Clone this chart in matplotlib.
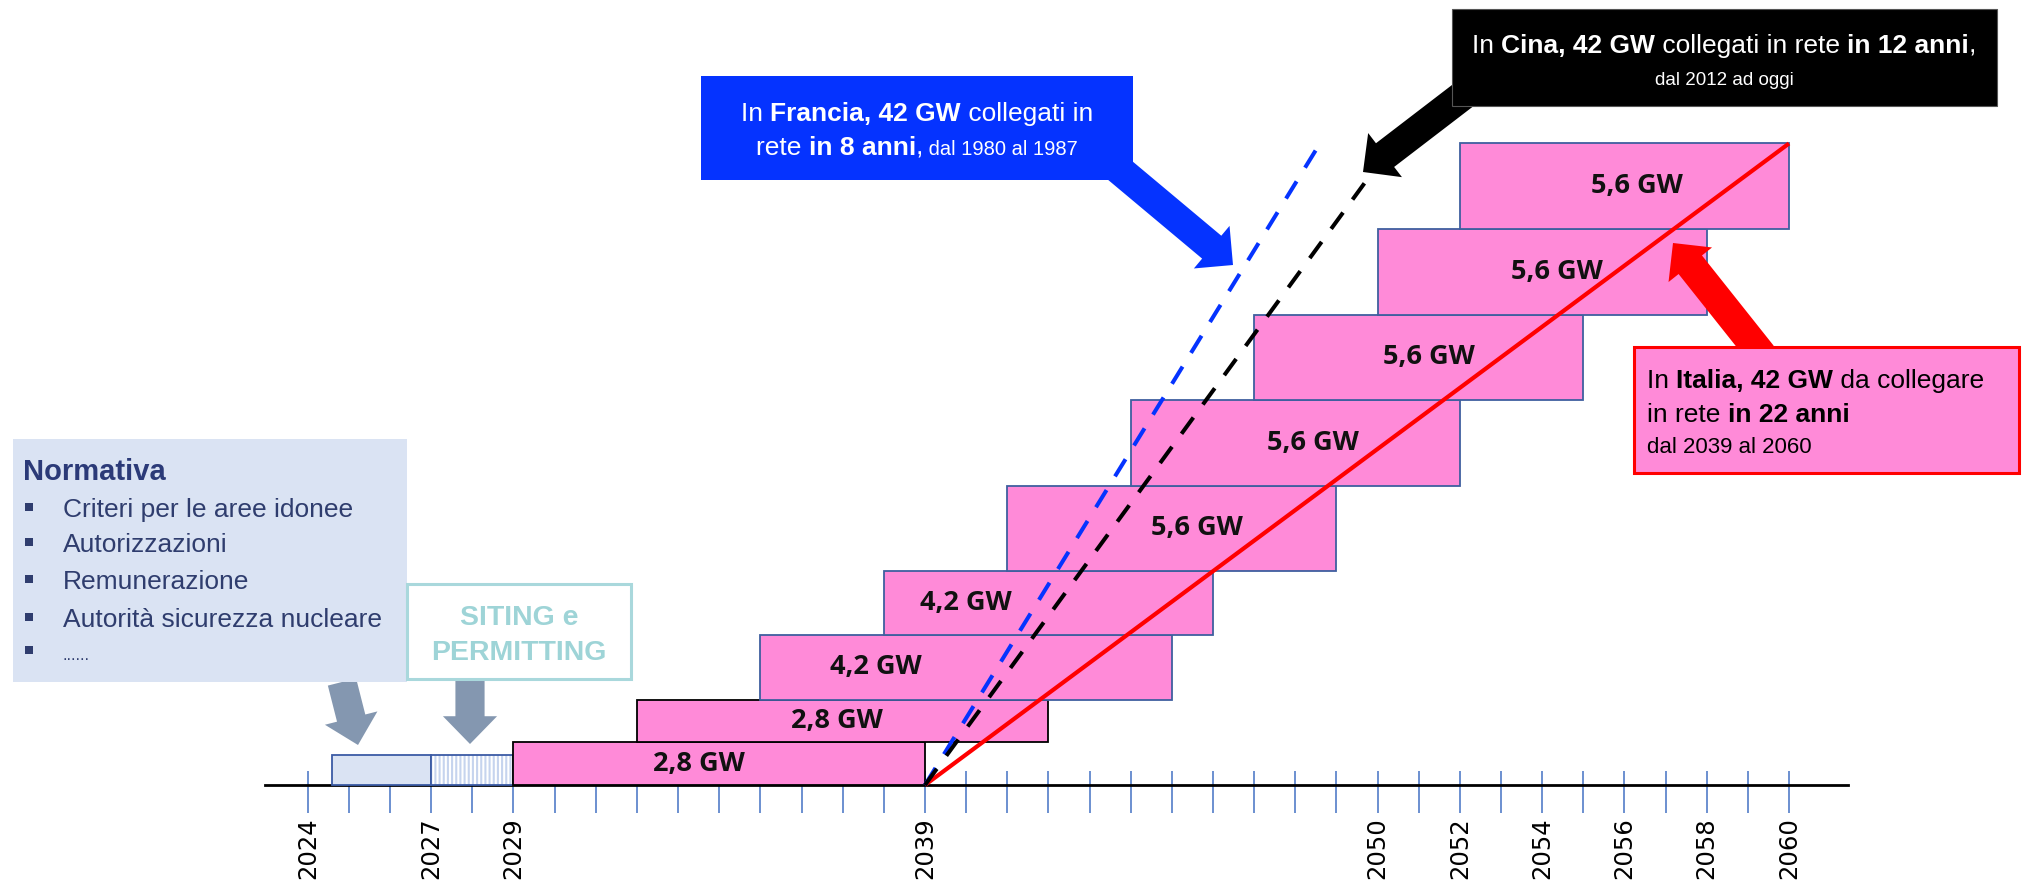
import matplotlib
matplotlib.use('Agg')
import matplotlib.pyplot as plt
from matplotlib import font_manager
from matplotlib.patches import Rectangle, FancyArrowPatch, ArrowStyle

# --- data ---
tick_years = list(range(2024, 2061))
label_years = [2024, 2027, 2029, 2039, 2050, 2052, 2054, 2056, 2058, 2060]

unit_start = [2029, 2032, 2035, 2038, 2041, 2044, 2047, 2050, 2052]
unit_end = [2039, 2042, 2045, 2046, 2049, 2052, 2055, 2058, 2060]
unit_gw = [2.8, 2.8, 4.2, 4.2, 5.6, 5.6, 5.6, 5.6, 5.6]

prep_start = [2024.6, 2027]
prep_end = [2027, 2029]

italia_x = [2039, 2060]
italia_gw = [0, 42]
francia_x = [2039, 2048.6]
francia_gw = [0, 42]
cina_x = [2039, 2049.9]
cina_gw = [0, 40.2]

normativa_items = ['Criteri per le aree idonee', 'Autorizzazioni',
                   'Remunerazione', 'Autorità sicurezza nucleare']

# --- style ---
W, H = 2026, 881
PINK = '#FF8AD8'
BLUE_EDGE = '#3F5F9F'
TICK = '#4472C4'

names = {f.name for f in font_manager.fontManager.ttflist}
SANS = 'Liberation Sans' if 'Liberation Sans' in names else 'DejaVu Sans'
BARFONT = 'Open Sans' if 'Open Sans' in names else 'DejaVu Sans'

# nudges of the GW labels inside each bar, in years from the bar centre
label_shift = [-0.49, -0.15, -2.2, -2.0, 0.61, 0.43, 0.25, 0.36, 0.3]
prep_height = 2.0

fig = plt.figure(figsize=(W / 100, H / 100), dpi=100)
ax = fig.add_axes([0, 0, 1, 1])
ax.set_xlim(2016.52, 2065.76)
ax.set_ylim(-6.28, 51.39)
ax.axis('off')

# overlay in pixel units for the callouts
ov = fig.add_axes([0, 0, 1, 1])
ov.set_xlim(0, W)
ov.set_ylim(H, 0)
ov.axis('off')
ov.patch.set_alpha(0)
ov.set_zorder(2)

renderer = fig.canvas.get_renderer()

# timeline
ax.vlines(tick_years, -1.85, 0.95, color=TICK, lw=1.1, zorder=1)
ax.plot([2022.96, 2061.43], [0, 0], color='black', lw=2, zorder=2)
for yr in label_years:
    ax.text(yr, -2.1, str(yr), rotation=90, ha='center', va='top',
            fontsize=17.5, family='DejaVu Sans', color='black')

# preparation phases before construction
plt.rcParams['hatch.linewidth'] = 1.5
ax.add_patch(Rectangle((prep_start[0], 0), prep_end[0] - prep_start[0], prep_height,
                       fc='#DAE3F3', ec='#3B5BA5', lw=1.3, zorder=3))
ax.add_patch(Rectangle((prep_start[1], 0), prep_end[1] - prep_start[1], prep_height,
                       fc='white', ec='#C6D4EE', hatch='||||', lw=0, zorder=3))
ax.add_patch(Rectangle((prep_start[1], 0), prep_end[1] - prep_start[1], prep_height,
                       fc='none', ec='#3B5BA5', lw=1.3, zorder=3))

# reactor tranches, stacked by cumulative GW
bottom = 0
for i, (s, e, gw) in enumerate(zip(unit_start, unit_end, unit_gw)):
    ec = 'black' if gw < 3 else BLUE_EDGE
    ax.add_patch(Rectangle((s, bottom), e - s, gw, fc=PINK, ec=ec, lw=1.3, zorder=3))
    label = f'{gw:.1f}'.replace('.', ',') + ' GW'
    ax.text((s + e) / 2 + label_shift[i], bottom + gw / 2, label, ha='center', va='center',
            fontsize=19.5, fontweight='bold', family=BARFONT, color='#111111', zorder=4)
    bottom += gw

# connection paths
ax.plot(italia_x, italia_gw, color='#FF0000', lw=3, zorder=5, solid_capstyle='butt')
ax.plot(francia_x, francia_gw, color='#0533FF', lw=2.9, zorder=5,
        dashes=(5, 4), dash_capstyle='butt')
ax.plot(cina_x, cina_gw, color='black', lw=2.9, zorder=5,
        dashes=(5, 4), dash_capstyle='butt')


def run_width(s, kw):
    t1 = ov.text(0, 0, '|' + s + '|', **kw)
    t2 = ov.text(0, 0, '||', **kw)
    w = t1.get_window_extent(renderer).width - t2.get_window_extent(renderer).width
    t1.remove()
    t2.remove()
    return w


def rich_line(x, y, runs, ha='left', color='black', family=SANS):
    specs = []
    for s, bold, size in runs:
        kw = dict(fontsize=size, fontweight='bold' if bold else 'normal',
                  family=family, color=color)
        specs.append((s, kw, run_width(s, kw)))
    total = sum(w for _, _, w in specs)
    cx = x - total / 2 if ha == 'center' else x
    for s, kw, w in specs:
        ov.text(cx, y, s, va='baseline', ha='left', zorder=6, **kw)
        cx += w


def arrow(p0, p1, color, tail, head_w, head_l):
    style = ArrowStyle.Simple(head_length=head_l, head_width=head_w, tail_width=tail)
    ov.add_patch(FancyArrowPatch(p0, p1, arrowstyle=style, mutation_scale=1,
                                 color=color, lw=0, shrinkA=0, shrinkB=0, zorder=3))


# left panel: regulation
ov.add_patch(Rectangle((13, 439), 394, 243, fc='#DAE3F3', ec='none', zorder=4))
ov.text(23, 480, 'Normativa', fontsize=21, fontweight='bold', family=SANS,
        color='#2B3A78', va='baseline', zorder=6)
for k, item in enumerate(normativa_items + ['......']):
    base = [517, 552, 589, 627, 660][k]
    ov.add_patch(Rectangle((25, base - 14), 8, 8, fc='#2F3D6E', ec='none', zorder=6))
    ov.text(63, base, item, fontsize=19 if k < 4 else 12, family=SANS,
            color='#2F3D6E', va='baseline', zorder=6)

ov.add_patch(Rectangle((407, 584), 224, 95, fc='white', ec='#A9D8DC', lw=2.2, zorder=4))
ov.text(519, 625, 'SITING e', fontsize=20.5, fontweight='bold', family=SANS,
        color='#9ED4D7', ha='center', va='baseline', zorder=6)
ov.text(519, 660, 'PERMITTING', fontsize=20.5, fontweight='bold', family=SANS,
        color='#9ED4D7', ha='center', va='baseline', zorder=6)

arrow((342, 682), (358, 745), '#8497B0', 21, 39, 20)
arrow((470, 680), (470, 744), '#8497B0', 21, 39, 20)

# France callout
arrow((1110, 162), (1233, 265), '#0533FF', 21.5, 40, 20)
ov.add_patch(Rectangle((701, 76), 432, 104, fc='#0533FF', ec='none', zorder=4))
rich_line(917, 121, [('In ', False, 19), ('Francia, 42 GW', True, 19),
                     (' collegati in', False, 19)], ha='center', color='white')
rich_line(917, 155, [('rete ', False, 19), ('in 8 anni', True, 19), (',', False, 19),
                     (' dal 1980 al 1987', False, 14.5)], ha='center', color='white')

# China callout
arrow((1470, 90), (1363, 172), 'black', 21.5, 40, 20)
ov.add_patch(Rectangle((1452, 9), 545, 97, fc='black', ec='#555555', lw=0.8, zorder=4))
rich_line(1724, 53, [('In ', False, 19), ('Cina, 42 GW', True, 19),
                     (' collegati in rete ', False, 19), ('in 12 anni', True, 19),
                     (',', False, 19)], ha='center', color='white')
rich_line(1724, 85, [('dal 2012 ad oggi', False, 13.5)], ha='center', color='white')

# Italy callout
arrow((1762, 355), (1673, 243), '#FF0000', 21.5, 40, 20)
ov.add_patch(Rectangle((1634, 347), 385, 126, fc=PINK, ec='#FF0000', lw=2.2, zorder=4))
rich_line(1647, 388, [('In ', False, 19), ('Italia, 42 GW', True, 19),
                      (' da collegare', False, 19)])
rich_line(1647, 422, [('in rete ', False, 19), ('in 22 anni', True, 19)])
rich_line(1647, 453, [('dal 2039 al 2060', False, 16)])

fig.savefig('out.png', dpi=100)
